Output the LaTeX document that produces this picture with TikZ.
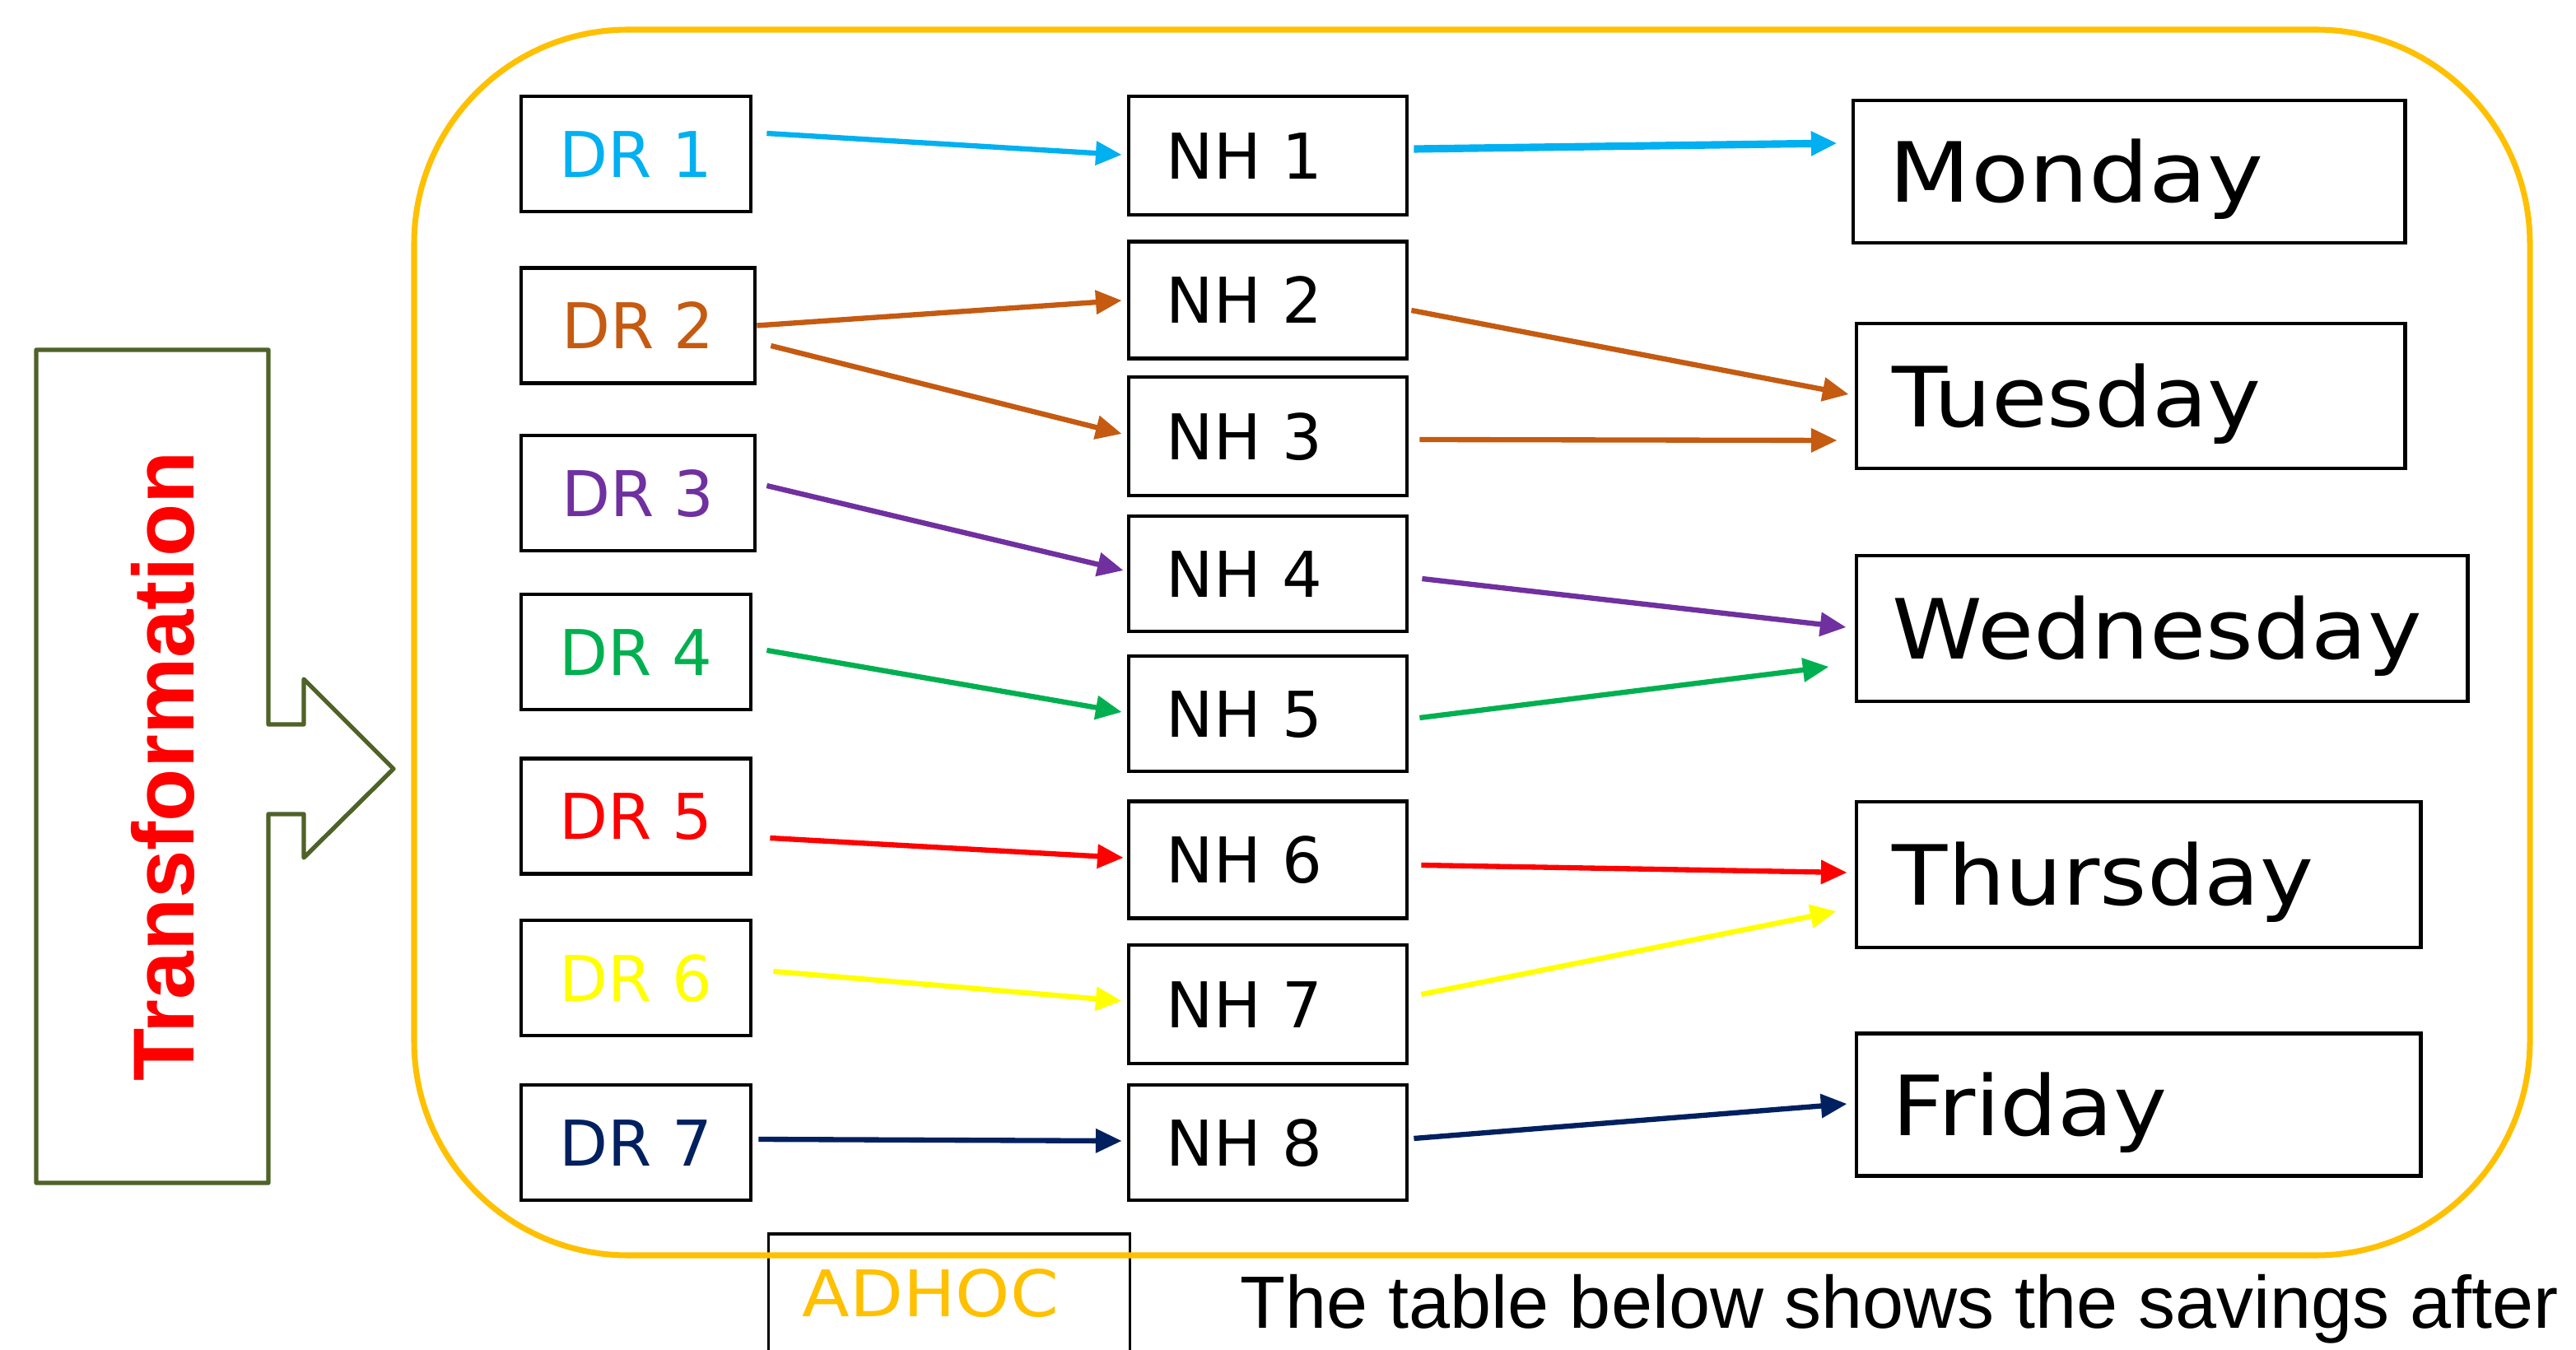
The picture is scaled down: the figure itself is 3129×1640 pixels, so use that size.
\documentclass[tikz,border=0pt]{standalone}
\usepackage{fontspec}
\usetikzlibrary{arrows.meta}
\newfontfamily\boxfont{DejaVu Sans}
\newfontfamily\arialfont{Liberation Sans}
\definecolor{frameorange}{HTML}{FFC000}
\definecolor{olivegreen}{HTML}{4F6228}
\definecolor{cblue}{HTML}{00B0F0}
\definecolor{cbrown}{HTML}{C55A11}
\definecolor{cpurple}{HTML}{7030A0}
\definecolor{cgreen}{HTML}{00B050}
\definecolor{cred}{HTML}{FF0000}
\definecolor{cyellow}{HTML}{FFFF00}
\definecolor{cnavy}{HTML}{002060}

\tikzset{
  drbox/.style={draw=black, line width=1.3pt, minimum width=2.79cm, minimum height=1.40cm,
    inner sep=0pt, text height=0.56cm, text depth=0pt,
    font=\boxfont\fontsize{21.8pt}{26pt}\selectfont},
  nhbox/.style={draw=black, line width=1.3pt, minimum height=1.42cm, inner xsep=0.46cm,
    inner ysep=0pt, text width=2.46cm, align=left, text height=0.56cm, text depth=0pt,
    font=\boxfont\fontsize{21.8pt}{26pt}\selectfont},
  daybox/.style={draw=black, line width=1.3pt, inner xsep=0.44cm, inner ysep=0pt,
    align=left, text height=0.74cm, text depth=0pt,
    font=\boxfont\fontsize{28.7pt}{34pt}\selectfont},
  link/.style={line width=1.8pt, -{Triangle[length=9pt,width=8pt]}},
}

\begin{document}
\begin{tikzpicture}[x=0.01cm, y=-0.01cm]
\useasboundingbox (0,0) rectangle (3129,1640);
\clip (0,0) rectangle (3129,1640);

% block arrow on the left
\draw[olivegreen, line width=1.5pt, line join=round, fill=white]
  (44,425) -- (326,425) -- (326,880) -- (369,880) -- (369,825) -- (478,934)
  -- (369,1042) -- (369,989) -- (326,989) -- (326,1437) -- (44,1437) -- cycle;
\node[rotate=90, anchor=base, inner sep=0pt, text=red,
  font=\arialfont\bfseries\fontsize{29.9pt}{36pt}\selectfont] (trlabel) at (235,931) {Transformation};

% box below the frame
\node[draw=black, line width=0.9pt, inner xsep=0.41cm, inner ysep=0pt, text width=3.56cm,
  minimum height=1.44cm, align=left, text height=0.57cm, text depth=0pt, text=frameorange,
  font=\boxfont\fontsize{22.2pt}{26pt}\selectfont] (adhoc) at (1153,1571) {\scalebox{1.08}[1]{ADHOC}};

% rounded frame
\draw[frameorange, line width=2pt, rounded corners=2.6cm] (503,36) rectangle (3073,1525);

% left column
\node[drbox, text=cblue] (dr1) at (772.5,187) {DR 1};
\node[drbox, text=cbrown, minimum width=2.84cm] (dr2) at (775,395.5) {DR 2};
\node[drbox, text=cpurple, minimum width=2.84cm] (dr3) at (775,599) {DR 3};
\node[drbox, text=cgreen] (dr4) at (772.5,792) {DR 4};
\node[drbox, text=cred] (dr5) at (772.5,991.5) {DR 5};
\node[drbox, text=cyellow] (dr6) at (772.5,1188) {DR 6};
\node[drbox, text=cnavy] (dr7) at (772.5,1388) {DR 7};

% middle column
\node[nhbox, minimum height=1.44cm] (nh1) at (1540,189) {NH 1};
\node[nhbox] (nh2) at (1540,364.5) {NH 2};
\node[nhbox, minimum height=1.44cm] (nh3) at (1540,530) {NH 3};
\node[nhbox, minimum height=1.40cm] (nh4) at (1540,697) {NH 4};
\node[nhbox, minimum height=1.40cm] (nh5) at (1540,867) {NH 5};
\node[nhbox] (nh6) at (1540,1044.5) {NH 6};
\node[nhbox, minimum height=1.44cm] (nh7) at (1540,1220) {NH 7};
\node[nhbox, minimum height=1.40cm] (nh8) at (1540,1388) {NH 8};

% right column
\node[daybox, text width=5.82cm, minimum height=1.73cm] (mon) at (2586,208.5) {\scalebox{1.14}[1]{Monday}};
\node[daybox, text width=5.78cm, minimum height=1.76cm] (tue) at (2588,481) {\scalebox{1.09}[1]{Tuesday}};
\node[daybox, text width=6.54cm, minimum height=1.77cm] (wed) at (2626,763.5) {\scalebox{1.1}[1]{Wednesday}};
\node[daybox, text width=5.97cm, minimum height=1.77cm] (thu) at (2597.5,1062.5) {\scalebox{1.09}[1]{Thursday}};
\node[daybox, text width=5.97cm, minimum height=1.73cm] (fri) at (2597.5,1342) {\scalebox{1.09}[1]{Friday}};

% connectors, left to middle
\draw[link, cblue] ([shift={(17,-25)}]dr1.east) -- ([shift={(-6,-1)}]nh1.west);
\draw[link, cbrown] ([shift={(0,0)}]dr2.east) -- ([shift={(-6,0.5)}]nh2.west);
\draw[link, cbrown] ([shift={(17,24.5)}]dr2.east) -- ([shift={(-6,-3)}]nh3.west);
\draw[link, cpurple] ([shift={(12,-9)}]dr3.east) -- ([shift={(-4,-4)}]nh4.west);
\draw[link, cgreen] ([shift={(17,-2)}]dr4.east) -- ([shift={(-6,-2)}]nh5.west);
\draw[link, cred] ([shift={(21,26.5)}]dr5.east) -- ([shift={(-4,-2.5)}]nh6.west);
\draw[link, cyellow] ([shift={(25,-8)}]dr6.east) -- ([shift={(-6,-4)}]nh7.west);
\draw[link, cnavy] ([shift={(7,-4)}]dr7.east) -- ([shift={(-6,-2)}]nh8.west);

% connectors, middle to right
\draw[link, cblue, line width=2.6pt] ([shift={(6,-8)}]nh1.east) -- ([shift={(-17,-34.5)}]mon.west);
\draw[link, cbrown] ([shift={(3,12.5)}]nh2.east) -- ([shift={(-7,-2)}]tue.west);
\draw[link, cbrown] ([shift={(13,4)}]nh3.east) -- ([shift={(-21,54)}]tue.west);
\draw[link, cpurple] ([shift={(16,6)}]nh4.east) -- ([shift={(-10,-1.5)}]wed.west);
\draw[link, cgreen] ([shift={(13,5)}]nh5.east) -- ([shift={(-31,46.5)}]wed.west);
\draw[link, cred] ([shift={(15,6.5)}]nh6.east) -- ([shift={(-9,-2.5)}]thu.west);
\draw[link, cyellow] ([shift={(15,-12)}]nh7.east) -- ([shift={(-22,44.5)}]thu.west);
\draw[link, cnavy] ([shift={(6,-5)}]nh8.east) -- ([shift={(-9,-1)}]fri.west);

% caption line below
\node[anchor=base west, inner sep=0pt, font=\arialfont\fontsize{25.6pt}{30pt}\selectfont]
  (note) at (1506,1613) {The table below shows the savings after};
\end{tikzpicture}
\end{document}
